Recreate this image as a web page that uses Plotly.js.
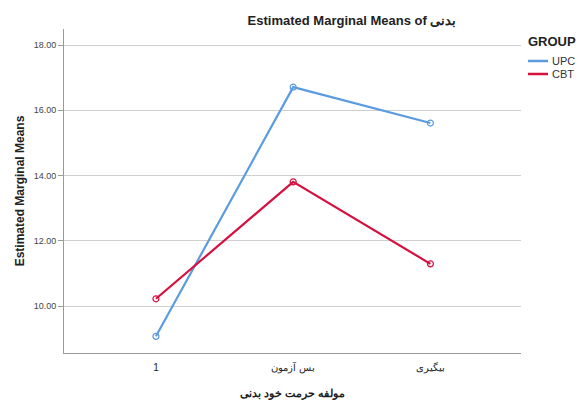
<!DOCTYPE html>
<html>
<head>
<meta charset="utf-8">
<script src="https://cdn.plot.ly/plotly-3.0.1.min.js"></script>
<style>html,body{margin:0;padding:0;background:#fff;}#chart{width:578px;height:402px;}</style>
</head>
<body>
<div id="chart"></div>
<script>
const categories = ["1", "بس آزمون", "بیگیری"];
const upcValues = [9.08, 16.71, 15.61];
const cbtValues = [10.23, 13.81, 11.30];
const seriesNames = ["UPC", "CBT"];
const seriesColors = ["#5b9be0", "#d6103f"];
const yTicks = [10, 12, 14, 16, 18];
const legendTitle = "GROUP";

const font = "Liberation Sans, Arial, sans-serif";
const W = 578, H = 402;
const M = {l: 64, r: 57, t: 29, b: 49};
const pw = W - M.l - M.r, ph = H - M.t - M.b;
const px = x => (x - M.l) / pw;          // pixel -> paper x
const py = y => (H - M.b - y) / ph;      // pixel -> paper y

const seriesValues = [upcValues, cbtValues];
const traces = seriesValues.map((vals, i) => ({
  x: categories, y: vals, name: seriesNames[i], type: "scatter", mode: "lines+markers",
  line: {color: seriesColors[i], width: 2.2},
  marker: {symbol: "circle-open", size: 6, color: seriesColors[i], line: {width: 1.2}}
}));

// custom legend (keys + labels) in paper coordinates
const shapes = [], annotations = [];
annotations.push({text: "<b>" + legendTitle + "</b>", xref: "paper", yref: "paper",
  x: px(526), y: py(41), xanchor: "left", yanchor: "middle", showarrow: false,
  font: {size: 13, color: "#222"}});
seriesNames.forEach((n, i) => {
  const yy = 61 + i * 13;
  shapes.push({type: "line", xref: "paper", yref: "paper", x0: px(528), x1: px(548), y0: py(yy), y1: py(yy),
    line: {color: seriesColors[i], width: 2.5}});
  annotations.push({text: n, xref: "paper", yref: "paper", x: px(550), y: py(yy),
    xanchor: "left", yanchor: "middle", showarrow: false, font: {size: 11, color: "#333"}});
});

const layout = {
  width: W, height: H,
  margin: {l: M.l, r: M.r, t: M.t, b: M.b, autoexpand: false},
  paper_bgcolor: "#fff", plot_bgcolor: "#fff",
  font: {family: font, color: "#222"},
  showlegend: false,
  shapes: shapes, annotations: annotations,
  title: {text: "<b>Estimated Marginal Means of بدنی</b>", font: {size: 13, color: "#222", family: font},
          x: px(352), xref: "paper", xanchor: "center", y: 1 - 20/402, yanchor: "middle"},
  xaxis: {
    type: "category", range: [-0.67, 2.66],
    showgrid: false, zeroline: false,
    showline: true, linecolor: "#9a9a9a", linewidth: 1,
    ticks: "", tickfont: {size: 10, color: "#222"}, ticklabelstandoff: 5,
    title: {text: "<b>مولفه حرمت خود بدنی</b>", font: {size: 11, color: "#222"}, standoff: 16}
  },
  yaxis: {
    range: [8.57, 18.49], tickvals: yTicks, tickformat: ".2f",
    showgrid: true, gridcolor: "#cfcfcf", gridwidth: 1, zeroline: false,
    showline: true, linecolor: "#9a9a9a", linewidth: 1,
    ticks: "outside", ticklen: 5, tickcolor: "#9a9a9a",
    tickfont: {size: 9, color: "#444"},
    title: {text: "<b>Estimated Marginal Means</b>", font: {size: 12, color: "#222"}, standoff: 6}
  }
};
Plotly.newPlot("chart", traces, layout, {displayModeBar: false, staticPlot: true});
</script>
</body>
</html>
